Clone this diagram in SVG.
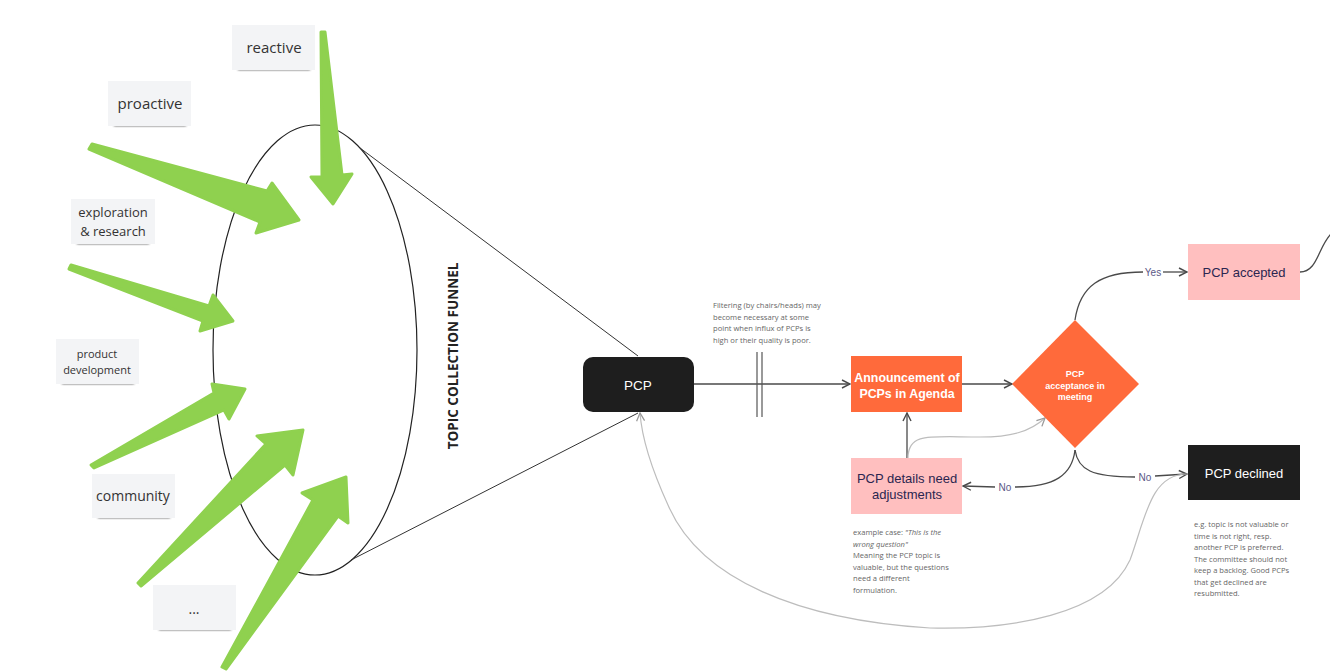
<svg xmlns="http://www.w3.org/2000/svg" width="1330" height="671" viewBox="0 0 1330 671">
<defs>
<style>
.sticky rect.bg{fill:#f3f4f6}
.sticky rect.sh{fill:#444;filter:url(#blur)}
.sticky text{font-family:"Open Sans",sans-serif;fill:#333;text-anchor:middle}
.arrow{fill:#8fd14f;stroke:#8fd14f;stroke-width:3;stroke-linejoin:round}
.conn{fill:none;stroke:#4a4a4a;stroke-width:1.3}
.conn-g{fill:none;stroke:#bdbdbd;stroke-width:1.2}
.lbl{font-family:"Liberation Sans",Arial,sans-serif;font-size:10px;fill:#5b5887;text-anchor:middle}
.node-t{font-family:"Liberation Sans",Arial,sans-serif;text-anchor:middle}
.note{font-family:"Open Sans",sans-serif;font-size:7.6px;fill:#666}
</style>
<filter id="blur" x="-20%" y="-200%" width="140%" height="500%"><feGaussianBlur stdDeviation="1.3"/></filter>
<marker id="ah" viewBox="0 0 10 10" refX="9" refY="5" markerWidth="10" markerHeight="10" markerUnits="userSpaceOnUse" orient="auto"><path d="M1,1 L9,5 L1,9" fill="none" stroke="#4a4a4a" stroke-width="1.4"/></marker>
<marker id="ahg" viewBox="0 0 10 10" refX="9" refY="5" markerWidth="10" markerHeight="10" markerUnits="userSpaceOnUse" orient="auto"><path d="M1,1 L9,5 L1,9" fill="none" stroke="#9a9a9a" stroke-width="1.3"/></marker>
</defs>
<rect width="1330" height="671" fill="#ffffff"/>

<g id="funnel">
<ellipse cx="315" cy="350" rx="102" ry="225" fill="none" stroke="#222" stroke-width="1.2"/>
<line x1="360" y1="148" x2="638" y2="356" stroke="#333" stroke-width="1"/>
<line x1="351" y1="560" x2="638" y2="413" stroke="#333" stroke-width="1"/>
<text transform="translate(458,356) rotate(-90)" font-family="'Open Sans',sans-serif" font-weight="bold" font-size="13.5" fill="#222" text-anchor="middle">TOPIC COLLECTION FUNNEL</text>
</g>

<g id="sticky-reactive" class="sticky"><rect class="sh" x="238" y="67" width="72" height="3"/><rect class="bg" x="232" y="25" width="83" height="45"/><text x="274" y="53" font-size="15">reactive</text></g>
<g id="sticky-proactive" class="sticky"><rect class="sh" x="114" y="123" width="72" height="3"/><rect class="bg" x="108" y="81" width="83" height="45"/><text x="150" y="109" font-size="15">proactive</text></g>
<g id="sticky-exploration" class="sticky"><rect class="sh" x="77" y="241" width="72" height="3"/><rect class="bg" x="71" y="199" width="84" height="45"/><text x="113" y="217" font-size="13">exploration</text><text x="113" y="236" font-size="13">&amp; research</text></g>
<g id="sticky-product" class="sticky"><rect class="sh" x="62" y="381" width="72" height="3"/><rect class="bg" x="56" y="339" width="83" height="45"/><text x="97" y="358" font-size="11">product</text><text x="97" y="374" font-size="11">development</text></g>
<g id="sticky-community" class="sticky"><rect class="sh" x="98" y="515" width="72" height="3"/><rect class="bg" x="92" y="474" width="83" height="44"/><text x="133" y="501" font-size="14">community</text></g>
<g id="sticky-more" class="sticky"><rect class="sh" x="159" y="627" width="72" height="3"/><rect class="bg" x="153" y="585" width="83" height="45"/><text x="194" y="614" font-size="14">...</text></g>

<g id="green-arrows">
<polygon class="arrow" points="321,32 325,32 342,175 352,174 333,204 311,177 322,177"/>
<polygon class="arrow" points="92,144 267,191 272,183 299,220 256,233 260,222 89,149"/>
<polygon class="arrow" points="71,265 209,306 213,295 233,321 200,331 203,321 69,269"/>
<polygon class="arrow" points="91,465 214,393 212,384 245,389 229,419 224,410 94,468"/>
<polygon class="arrow" points="138,583 266,444 257,436 303,430 293,475 285,465 141,586"/>
<polygon class="arrow" points="222,667 313,500 302,493 346,477 348,523 338,516 226,669"/>
</g>

<g id="connectors">
<path class="conn" d="M694,384 L850,384" marker-end="url(#ah)"/>
<line x1="757" y1="352" x2="757" y2="417" stroke="#555" stroke-width="1.2"/>
<line x1="762" y1="352" x2="762" y2="417" stroke="#555" stroke-width="1.2"/>
<path class="conn" d="M962,384 L1012,384" marker-end="url(#ah)"/>
<path class="conn" d="M907,458 L907,413" marker-end="url(#ah)"/>
<path class="conn-g" d="M908,458 C908,432 930,437 980,437 C1010,437 1030,432 1045,418" marker-end="url(#ahg)"/>
<path class="conn" d="M1075,320 C1080,286 1100,272 1143,272"/>
<path class="conn" d="M1163,272 L1187,272" marker-end="url(#ah)"/>
<text class="lbl" x="1153" y="276">Yes</text>
<path class="conn" d="M1300,272 C1318,272 1318,246 1332,233"/>
<path class="conn" d="M1075,450 C1078,470 1092,477 1135,477"/>
<path class="conn" d="M1155,476 L1187,474" marker-end="url(#ah)"/>
<text class="lbl" x="1145" y="481">No</text>
<path class="conn" d="M1075,450 C1072,475 1055,487 1015,487"/>
<path class="conn" d="M995,487 L963,486" marker-end="url(#ah)"/>
<text class="lbl" x="1005" y="491">No</text>
<path class="conn-g" d="M1187,474 C1150,474 1145,520 1130,560 C1105,615 1010,630 930,628 C800,620 700,580 668,505 C652,470 642,440 640,413" marker-end="url(#ahg)"/>
</g>

<g id="node-pcp">
<rect x="583" y="357" width="111" height="55" rx="10" fill="#1e1e1e"/>
<text class="node-t" x="638" y="390" font-size="13.5" fill="#fff">PCP</text>
</g>

<g id="note-filter" class="note">
<text x="713" y="308">Filtering (by chairs/heads) may</text>
<text x="713" y="319.5">become necessary at some</text>
<text x="713" y="331">point when influx of PCPs is</text>
<text x="713" y="342.5">high or their quality is poor.</text>
</g>

<g id="node-announcement">
<rect x="851" y="356" width="111" height="56" fill="#ff6a3b"/>
<text class="node-t" x="907" y="382" font-size="12.4" font-weight="bold" fill="#fff">Announcement of</text>
<text class="node-t" x="907" y="398" font-size="12.4" font-weight="bold" fill="#fff">PCPs in Agenda</text>
</g>

<g id="node-decision">
<polygon points="1075,320 1139,384 1075,448 1012,384" fill="#ff6a3b"/>
<text class="node-t" x="1075" y="377" font-size="9" font-weight="bold" fill="#fff">PCP</text>
<text class="node-t" x="1075" y="389" font-size="9" font-weight="bold" fill="#fff">acceptance in</text>
<text class="node-t" x="1075" y="400" font-size="9" font-weight="bold" fill="#fff">meeting</text>
</g>

<g id="node-accepted">
<rect x="1188" y="244" width="112" height="56" fill="#ffbfbf"/>
<text class="node-t" x="1244" y="277" font-size="13" fill="#2b2650">PCP accepted</text>
</g>

<g id="node-declined">
<rect x="1188" y="445" width="112" height="55" fill="#1e1e1e"/>
<text class="node-t" x="1244" y="478" font-size="13" fill="#fff">PCP declined</text>
</g>

<g id="node-adjust">
<rect x="851" y="458" width="111" height="56" fill="#ffbfbf"/>
<text class="node-t" x="907" y="483" font-size="13" fill="#2b2650">PCP details need</text>
<text class="node-t" x="907" y="499" font-size="13" fill="#2b2650">adjustments</text>
</g>

<g id="note-adjust" class="note">
<text x="853" y="535">example case: <tspan font-style="italic">"This is the</tspan></text>
<text x="853" y="546.5" font-style="italic">wrong question"</text>
<text x="853" y="558">Meaning the PCP topic is</text>
<text x="853" y="569.5">valuable, but the questions</text>
<text x="853" y="581">need a different</text>
<text x="853" y="592.5">formulation.</text>
</g>

<g id="note-declined" class="note">
<text x="1194" y="527">e.g. topic is not valuable or</text>
<text x="1194" y="538.5">time is not right, resp.</text>
<text x="1194" y="550">another PCP is preferred.</text>
<text x="1194" y="561.5">The committee should not</text>
<text x="1194" y="573">keep a backlog. Good PCPs</text>
<text x="1194" y="584.5">that get declined are</text>
<text x="1194" y="596">resubmitted.</text>
</g>
</svg>
